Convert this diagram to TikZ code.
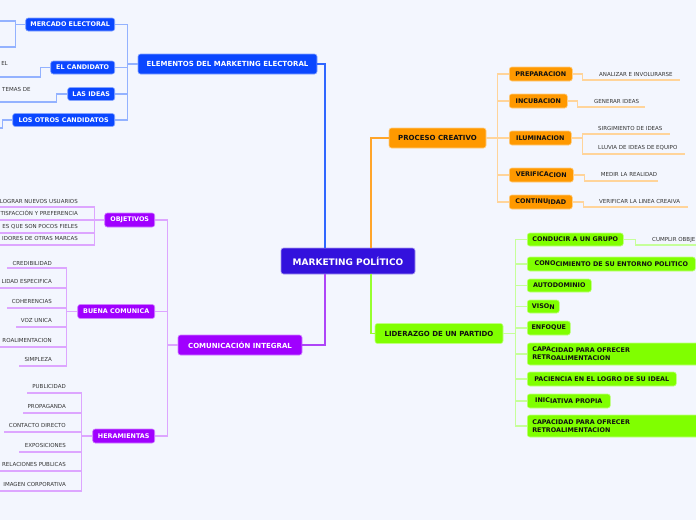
\documentclass[tikz,border=0pt]{standalone}
\usepackage{fontspec}
\setmainfont{DejaVu Sans}
\usetikzlibrary{calc}
\definecolor{bg}{HTML}{F3F6FE}
\definecolor{rootc}{HTML}{3311DD}
\definecolor{bluec}{HTML}{0A47FF}
\definecolor{orc}{HTML}{FF9900}
\definecolor{grc}{HTML}{80FF00}
\definecolor{puc}{HTML}{A000FF}
\definecolor{leaft}{HTML}{333333}
\definecolor{darkt}{HTML}{111111}
\definecolor{mbl}{HTML}{2F66FF}
\definecolor{mor}{HTML}{FFA52A}
\definecolor{mgr}{HTML}{96FF30}
\definecolor{mpu}{HTML}{AE45F8}
\definecolor{lbl}{HTML}{93B2FF}
\definecolor{lor}{HTML}{FFD49A}
\definecolor{lgr}{HTML}{C6FF9A}
\definecolor{lpu}{HTML}{DDA6FF}
\newcommand{\lowpart}[1]{\raisebox{-1.2pt}{#1}}
\tikzset{
  basen/.style={rounded corners=2.5pt, inner sep=0pt, line width=0.6pt, align=center},
  rootn/.style={basen, fill=rootc, draw=rootc!45!white, text=white,
    font=\bfseries\fontsize{9}{10}\selectfont, minimum width=134, minimum height=26},
  lone/.style={basen, fill=#1, draw=#1!50!white, minimum height=20,
    font=\bfseries\fontsize{7}{8}\selectfont},
  ltwo/.style={basen, fill=#1, draw=#1!50!white, minimum height=14,
    font=\bfseries\fontsize{6.4}{8}\selectfont},
  leaf/.style={inner sep=0pt, text=leaft, font=\fontsize{5.5}{6.5}\selectfont},
  mainc/.style={draw=#1, line width=1.5pt},
  subc/.style={draw=#1, line width=1.2pt},
}
\begin{document}
\begin{tikzpicture}[x=1pt,y=-1pt]
\useasboundingbox (0,0) rectangle (696,520);
\fill[bg] (0,0) rectangle (696,520);

% ---------- nodes ----------
\node[rootn] (root) at (348,261) {MARKETING POLÍTICO};

% blue branch
\node[lone=bluec, text=white, minimum width=179] (elem) at (227.5,64) {ELEMENTOS DEL MARKETING ELECTORAL};
\node[ltwo=bluec, text=white, minimum width=89, minimum height=13, anchor=east] (merc) at (115,24.5) {MERCADO ELECTORAL};
\node[ltwo=bluec, text=white, minimum width=64, minimum height=13, anchor=east] (cand) at (115,67.5) {EL CANDIDATO};
\node[ltwo=bluec, text=white, minimum width=47, minimum height=13, anchor=east] (ideas) at (115,94) {LAS IDEAS};
\node[ltwo=bluec, text=white, minimum width=102, minimum height=13, anchor=east] (otros) at (115,120) {LOS OTROS CANDIDATOS};

% orange branch
\node[lone=orc, text=darkt, minimum width=97] (proc) at (437.5,138) {PROCESO CREATIVO};
\node[ltwo=orc, text=darkt, minimum width=63, anchor=west] (prep) at (509,74) {PREPARACION};
\node[ltwo=orc, text=darkt, minimum width=58, anchor=west] (incu) at (509,101) {INCUBACION};
\node[ltwo=orc, text=darkt, minimum width=62, anchor=west] (ilum) at (509,138) {ILUMINACION};
\node[ltwo=orc, text=darkt, minimum width=64, anchor=west] (veri) at (509,175) {VERIFICA\lowpart{CION}};
\node[ltwo=orc, text=darkt, minimum width=63, anchor=west] (cont) at (509,202) {CONTINU\lowpart{IDAD}};

% green branch
\node[lone=grc, text=darkt, minimum width=128] (lid) at (439,333.5) {LIDERAZGO DE UN PARTIDO};
\node[ltwo=grc, text=darkt, minimum width=96, minimum height=13, anchor=west] (cond) at (527,239.5) {CONDUCIR A UN GRUPO};
\node[ltwo=grc, text=darkt, minimum width=168, anchor=west] (cono) at (527,264) {CONO\lowpart{CIMIENTO DE SU ENTORNO POLITICO}};
\node[ltwo=grc, text=darkt, minimum width=64, minimum height=13, anchor=west] (autod) at (527,285.5) {AUTODOMINIO};
\node[ltwo=grc, text=darkt, minimum width=32, minimum height=13, anchor=west] (vison) at (527,306.5) {VISO\lowpart{N}};
\node[ltwo=grc, text=darkt, minimum width=43, anchor=west] (enfo) at (527,328) {ENFOQUE};
\node[ltwo=grc, text=darkt, anchor=west, text width=170, align=left, inner xsep=5pt, minimum height=22,
  font=\bfseries\fontsize{6.4}{8}\selectfont] (capa) at (527,354) {CAPA\lowpart{CIDAD PARA OFRECER}\\RETR\lowpart{OALIMENTACION}};
\node[ltwo=grc, text=darkt, minimum width=149, anchor=west] (paci) at (527,379) {PACIENCIA EN EL LOGRO DE SU IDEAL};
\node[ltwo=grc, text=darkt, minimum width=83, anchor=west] (inic) at (527,401) {INIC\lowpart{IATIVA PROPIA}};
\node[ltwo=grc, text=darkt, anchor=west, text width=170, align=left, inner xsep=5pt, minimum height=22,
  font=\bfseries\fontsize{6.4}{8}\selectfont] (capb) at (527,426) {CAPACIDAD PARA OFRECER\\RETROALIMENTACION};

% purple branch
\node[lone=puc, text=white, minimum width=124] (com) at (240,345) {COMUNICACIÓN INTEGRAL};
\node[ltwo=puc, text=white, minimum width=50, anchor=east] (obj) at (155,220) {OBJETIVOS};
\node[ltwo=puc, text=white, minimum width=77, anchor=east] (buena) at (155,311.5) {BUENA COMUNICA};
\node[ltwo=puc, text=white, minimum width=62, anchor=east] (hera) at (155,436) {HERAMIENTAS};

% ---------- main connectors ----------
\draw[mainc=mbl] (elem.east) -| ($(root.north west)!0.328!(root.north east)$);
\draw[mainc=mor] (proc.west) -| ($(root.north west)!0.672!(root.north east)$);
\draw[mainc=mgr] (lid.west) -| ($(root.south west)!0.672!(root.south east)$);
\draw[mainc=mpu] (com.east) -| ($(root.south west)!0.328!(root.south east)$);

% ---------- blue sub ----------
\draw[subc=lbl] (elem.west) -- ++(-10,0) coordinate (ej);
\foreach \n in {merc,cand,ideas,otros} \draw[subc=lbl] (\n.east) -| (ej);
\coordinate (m1) at (0,21); \coordinate (m2) at (0,47);
\draw[subc=lbl] (merc.west) -- ++(-10,0) coordinate (mj);
\draw[subc=lbl] (mj) |- (m1); \draw[subc=lbl] (mj) |- (m2);
\coordinate (c1) at (0,77);
\draw[subc=lbl] (cand.west) -- ++(-10,0) |- (c1);
\node[leaf, anchor=base east] (elt) at (8,65.2) {EL};
\coordinate (i1) at (0,102);
\draw[subc=lbl] (ideas.west) -- ++(-11,0) |- (i1);
\node[leaf, anchor=base west] (tem) at (2,91.8) {TEMAS DE};
\coordinate (ot1) at (0,128);
\draw[subc=lbl] (otros.west) -- ++(-10,0) |- (ot1);

% ---------- orange sub ----------
\draw[subc=lor] (proc.east) -- ++(11,0) coordinate (pj);
\foreach \n in {prep,incu,ilum,veri,cont} \draw[subc=lor] (\n.west) -| (pj);
\node[leaf, anchor=base west] (a1) at (599,76.8) {ANALIZAR E INVOLURARSE};
\coordinate (a1e) at (680,80);
\draw[subc=lor] (prep.east) -- ++(10,0) |- (a1e);
\node[leaf, anchor=base west] (a2) at (594,103.8) {GENERAR IDEAS};
\coordinate (a2e) at (645,107);
\draw[subc=lor] (incu.east) -- ++(10,0) |- (a2e);
\node[leaf, anchor=base west] (a3) at (598,130.8) {SIRGIMIENTO DE IDEAS};
\coordinate (a3e) at (670,134);
\node[leaf, anchor=base west] (a4) at (598,149.8) {LLUVIA DE IDEAS DE EQUIPO};
\coordinate (a4e) at (685,154);
\draw[subc=lor] (ilum.east) -- ++(11,0) coordinate (ij);
\draw[subc=lor] (ij) |- (a3e); \draw[subc=lor] (ij) |- (a4e);
\node[leaf, anchor=base west] (a5) at (600.7,176.8) {MEDIR LA REALIDAD};
\coordinate (a5e) at (658,181);
\draw[subc=lor] (veri.east) -- ++(11,0) |- (a5e);
\node[leaf, anchor=base west] (a6) at (599,203.8) {VERIFICAR LA LINEA CREAIVA};
\coordinate (a6e) at (688,207);
\draw[subc=lor] (cont.east) -- ++(11,0) |- (a6e);

% ---------- green sub ----------
\draw[subc=lgr] (lid.east) -- ++(12,0) coordinate (gj);
\foreach \n in {cond,cono,autod,vison,enfo,capa,paci,inic,capb} \draw[subc=lgr] (\n.west) -| (gj);
\node[leaf, anchor=base west] (g1) at (652,241.8) {CUMPLIR OBBJE};
\coordinate (g1e) at (696,245);
\draw[subc=lgr] (cond.east) -- ++(12,0) |- (g1e);

% ---------- purple sub ----------
\draw[subc=lpu] (com.west) -- ++(-10,0) coordinate (cj);
\foreach \n in {obj,buena,hera} \draw[subc=lpu] (\n.east) -| (cj);

\draw[subc=lpu] (obj.west) -- ++(-10,0) coordinate (oj);
\coordinate (o1e) at (0,207); \coordinate (o2e) at (0,220);
\coordinate (o3e) at (0,233); \coordinate (o4e) at (0,245);
\foreach \c in {o1e,o2e,o3e,o4e} \draw[subc=lpu] (oj) |- (\c);
\node[leaf, anchor=base east] (o1) at (78,203.8) {LOGRAR NUEVOS USUARIOS};
\node[leaf, anchor=base east] (o2) at (78,215.8) {TISFACCIÓN Y PREFERENCIA};
\node[leaf, anchor=base east] (o3) at (78,228.8) {ES QUE SON POCOS FIELES};
\node[leaf, anchor=base east] (o4) at (78,240.8) {IDORES DE OTRAS MARCAS};

\draw[subc=lpu] (buena.west) -- ++(-11,0) coordinate (bj);
\coordinate (b1s) at (7,268); \coordinate (b2s) at (0,288);
\coordinate (b3s) at (7,308); \coordinate (b4s) at (16,327);
\coordinate (b5s) at (0,347); \coordinate (b6s) at (19,366);
\foreach \c in {b1s,b2s,b3s,b4s,b5s,b6s} \draw[subc=lpu] (bj) |- (\c);
\node[leaf, anchor=base east] (b1) at (52,265) {CREDIBILIDAD};
\node[leaf, anchor=base east] (b2) at (52,283.8) {LIDAD ESPECIFICA};
\node[leaf, anchor=base east] (b3) at (52,303.8) {COHERENCIAS};
\node[leaf, anchor=base east] (b4) at (52,322.8) {VOZ UNICA};
\node[leaf, anchor=base east] (b5) at (52,342.5) {ROALIMENTACION};
\node[leaf, anchor=base east] (b6) at (52,361.8) {SIMPLEZA};

\draw[subc=lpu] (hera.west) -- ++(-11,0) coordinate (hj);
\coordinate (h1s) at (27,393); \coordinate (h2s) at (23,413);
\coordinate (h3s) at (4,432); \coordinate (h4s) at (19,452);
\coordinate (h5s) at (0,471); \coordinate (h6s) at (0,491);
\foreach \c in {h1s,h2s,h3s,h4s,h5s,h6s} \draw[subc=lpu] (hj) |- (\c);
\node[leaf, anchor=base east] (h1) at (66,388.5) {PUBLICIDAD};
\node[leaf, anchor=base east] (h2) at (66,408.5) {PROPAGANDA};
\node[leaf, anchor=base east] (h3) at (66,427.8) {CONTACTO DIRECTO};
\node[leaf, anchor=base east] (h4) at (66,447.8) {EXPOSICIONES};
\node[leaf, anchor=base east] (h5) at (66,466.8) {RELACIONES PUBLICAS};
\node[leaf, anchor=base east] (h6) at (66,486.8) {IMAGEN CORPORATIVA};
\end{tikzpicture}
\end{document}
